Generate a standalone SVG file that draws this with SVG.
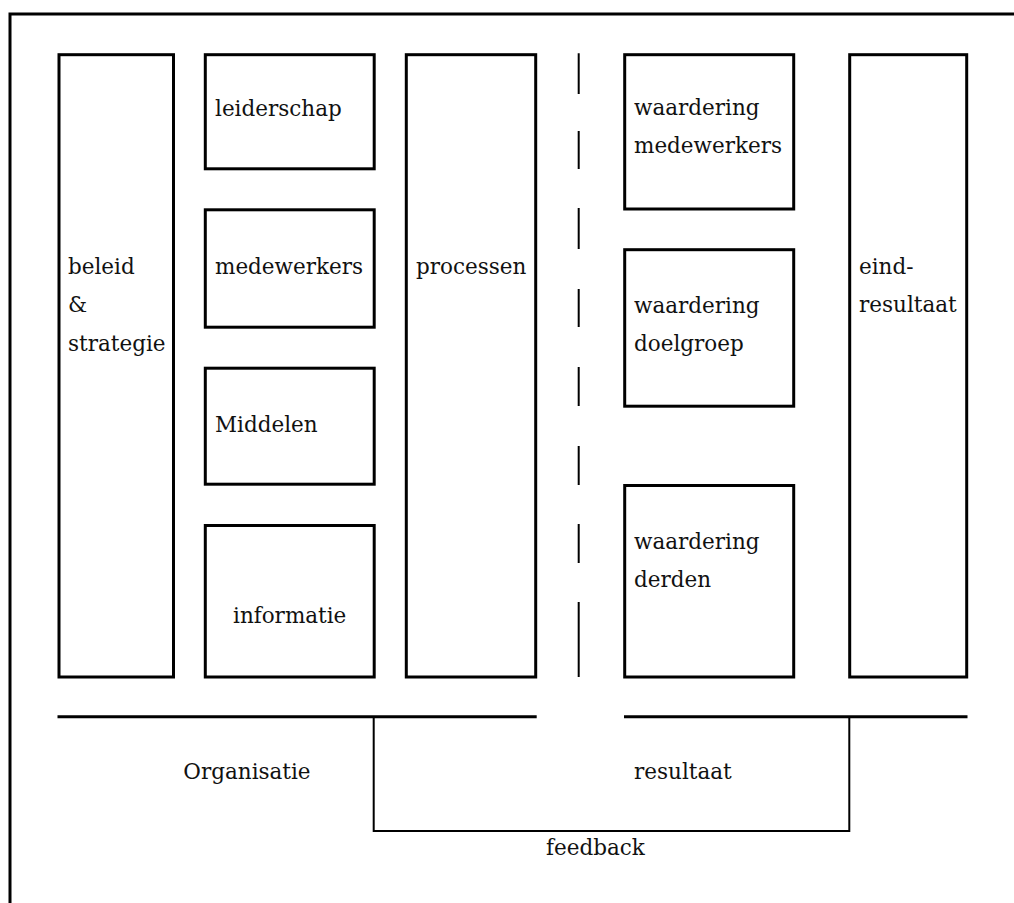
<svg xmlns="http://www.w3.org/2000/svg" width="1014" height="903" viewBox="0 0 1014 903">
  <style>
    .box { fill: none; stroke: #000; stroke-width: 3; }
    .frame { fill: none; stroke: #000; stroke-width: 3; }
    .thick { fill: none; stroke: #000; stroke-width: 3; }
    .thin { fill: none; stroke: #000; stroke-width: 2; }
    text { font-family: "DejaVu Serif", "Liberation Serif", serif; font-size: 21.5px; fill: #111; }
  </style>
  <rect x="0" y="0" width="1014" height="903" fill="#fff"/>
  <path class="frame" d="M10,903 V14 H1014"/>

  <g id="node-beleid">
    <rect class="box" x="59" y="54.7" width="114.5" height="622.3"/>
    <text x="68" y="274">beleid</text>
    <text x="68" y="312">&amp;</text>
    <text x="68" y="350.7">strategie</text>
  </g>
  <g id="node-leiderschap">
    <rect class="box" x="205.3" y="54.7" width="168.9" height="114.1"/>
    <text x="215" y="116">leiderschap</text>
  </g>
  <g id="node-medewerkers">
    <rect class="box" x="205.3" y="209.8" width="168.9" height="117.4"/>
    <text x="215" y="274">medewerkers</text>
  </g>
  <g id="node-middelen">
    <rect class="box" x="205.3" y="368.2" width="168.9" height="116"/>
    <text x="215" y="432.3">Middelen</text>
  </g>
  <g id="node-informatie">
    <rect class="box" x="205.3" y="525.5" width="168.9" height="151.5"/>
    <text x="233" y="623.3">informatie</text>
  </g>
  <g id="node-processen">
    <rect class="box" x="406.3" y="54.7" width="129.4" height="622.3"/>
    <text x="416" y="273.5">processen</text>
  </g>
  <g id="node-waardering-medewerkers">
    <rect class="box" x="624.7" y="54.7" width="169" height="154.3"/>
    <text x="634" y="115">waardering</text>
    <text x="634" y="153.3">medewerkers</text>
  </g>
  <g id="node-waardering-doelgroep">
    <rect class="box" x="624.7" y="249.7" width="169" height="156.5"/>
    <text x="634" y="312.7">waardering</text>
    <text x="634" y="350.7">doelgroep</text>
  </g>
  <g id="node-waardering-derden">
    <rect class="box" x="624.7" y="485.5" width="169" height="191.5"/>
    <text x="634" y="548.5">waardering</text>
    <text x="634" y="586.7">derden</text>
  </g>
  <g id="node-eindresultaat">
    <rect class="box" x="849.7" y="54.7" width="117" height="622.3"/>
    <text x="859" y="274">eind-</text>
    <text x="859" y="311.7">resultaat</text>
  </g>

  <g id="connectors">
    <path class="thin" d="M578.7,53.3 V94 M578.7,131 V169 M578.7,208 V249 M578.7,289 V327 M578.7,367 V406 M578.7,446 V485 M578.7,524 V563 M578.7,602 V677"/>
    <path class="thick" d="M57.5,716.7 H536.7 M624,716.7 H967.5"/>
    <path class="thin" d="M373.7,716.7 V831 H849.3 V716.7"/>
  </g>

  <g id="labels">
    <text x="183.3" y="779.3">Organisatie</text>
    <text x="634" y="779.3">resultaat</text>
    <text x="546" y="855.3">feedback</text>
  </g>
</svg>
